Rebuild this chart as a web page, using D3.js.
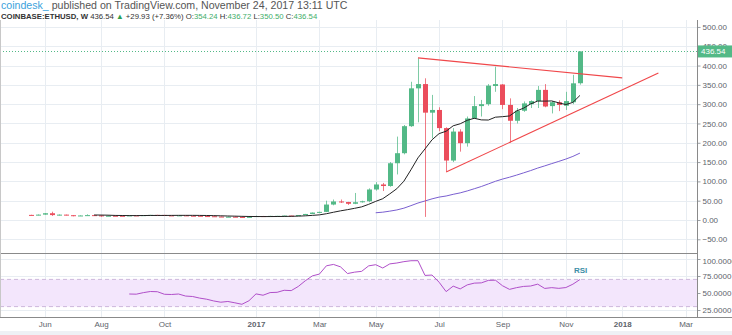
<!DOCTYPE html>
<html><head><meta charset="utf-8">
<script src="https://cdn.jsdelivr.net/npm/d3@7"></script>
<style>
html,body{margin:0;padding:0;background:#fff;}
svg{display:block;font-family:"Liberation Sans",Arial,sans-serif;}
</style></head><body>
<svg id="c" width="732" height="335"></svg>
<script>
// ---------- DATA ----------
const firstWeek = "2016-05-23"; // weekly bars (Monday)
const open  = [13.2,12.5,13.9,17.5,12.7,13.9,12.4,10.4,11.7,12.6,11.9,10.6,11.0,10.9,10.8,11.9,11.8,12.6,13.2,13.1,11.9,11.8,12.0,11.1,10.9,10.2,9.7,8.9,8.3,8.5,7.9,7.2,
  8.1,10.2,9.7,10.6,10.7,11.4,11.3,12.8,15.6,19.2,21.0,40.0,48.0,46.5,42.0,46.0,48.5,79.0,92.0,88.0,147.0,173.0,243.0,341.0,352.0,278.0,285.0,238.0,154.0,229.0,199.0,263.0,295.0,300.0,347.0,351.0,298.0,257.0,283.0,300.0,308.0,337.0,295.0,305.0,296.0,305.0,354.24];
const high  = [13.6,14.4,17.9,21.5,14.5,14.0,12.5,12.1,14.7,13.0,12.1,12.2,11.3,11.2,12.2,12.3,12.8,13.3,13.4,13.2,12.1,12.1,12.1,11.2,11.0,10.3,9.9,9.0,8.8,8.6,8.0,8.3,
  11.3,10.5,10.8,10.9,11.5,11.6,12.9,15.8,19.5,21.5,50.0,53.0,53.0,47.0,70.0,50.0,82.0,98.0,96.0,150.0,216.0,246.0,358.0,419.0,367.0,324.0,292.0,240.0,238.0,235.0,268.0,321.0,311.0,352.0,397.0,352.0,315.0,290.0,307.0,310.0,347.0,352.0,308.0,310.0,332.0,376.0,436.72];
const low   = [11.9,12.0,13.6,10.5,11.5,11.8,9.5,10.2,11.5,11.6,8.3,10.5,10.6,10.6,10.7,11.5,11.7,12.4,12.8,11.8,11.6,11.8,10.9,10.5,10.1,9.5,8.7,7.9,7.8,7.7,7.0,7.1,
  8.0,9.5,9.6,10.4,10.6,10.8,11.2,12.7,15.4,17.5,20.5,38.0,44.0,39.0,41.0,45.0,46.0,76.0,75.0,86.0,118.0,170.0,241.0,253.0,8.0,212.0,230.0,125.0,150.0,177.0,190.0,262.0,268.0,296.0,332.0,287.0,200.0,250.0,280.0,290.0,290.0,292.0,276.0,282.0,285.0,300.0,350.50];
const close = [12.5,13.9,17.5,12.7,13.9,12.4,10.4,11.7,12.6,11.9,10.6,11.0,10.9,10.8,11.9,11.8,12.6,13.2,13.1,11.9,11.8,12.0,11.1,10.9,10.2,9.7,8.9,8.3,8.5,7.9,7.2,8.1,
  10.2,9.7,10.6,10.7,11.4,11.3,12.8,15.6,19.2,21.0,40.0,48.0,46.5,42.0,46.0,48.5,79.0,92.0,88.0,147.0,173.0,243.0,341.0,352.0,278.0,285.0,238.0,154.0,229.0,199.0,263.0,295.0,300.0,348.0,352.0,298.0,257.0,283.0,302.0,308.0,337.0,294.0,305.0,298.0,308.0,354.0,436.54];

const priceTicks = [-50,0,50,100,150,200,250,300,350,400,450,500];
const rsiTicks = [25,50,75,100];
const rsiBand = [30,70];
const monthTicks  = ["2016-06-06","2016-08-01","2016-10-03","2017-01-02","2017-03-06","2017-05-01","2017-07-03","2017-09-04","2017-11-06","2018-01-01","2018-03-05"];
const monthLabels = ["Jun","Aug","Oct","2017","Mar","May","Jul","Sep","Nov","2018","Mar"];
const resistanceLine = [["2017-06-12",420],["2018-01-01",368]];
const supportLine    = [["2017-07-10",124],["2018-02-06",381]];
const lastPrice = 436.54;
const headerLine1 = ["coindesk_"," published on TradingView.com, November 24, 2017 13:11 UTC"];
const headerLine2 = [
  {t:"COINBASE:ETHUSD, W ",c:"#333",b:true},{t:"436.54 ",c:"#333"},{t:"▲",c:"#2e9e4f"},{t:" +29.93 (+7.36%) ",c:"#333"},
  {t:"O:",c:"#333"},{t:"354.24",c:"#3fae6a"},{t:" H:",c:"#333"},{t:"436.72",c:"#3fae6a"},
  {t:" L:",c:"#333"},{t:"350.50",c:"#3fae6a"},{t:" C:",c:"#333"},{t:"436.54",c:"#3fae6a"}];

// ---------- LAYOUT ----------
const W=732, H=335, axisX=697;
const mainTop=20, mainBot=253, rsiTop=254, rsiBot=317;
const parse = d3.utcParse("%Y-%m-%d");
const t0 = parse(firstWeek);
const dates = close.map((_,i)=>d3.utcDay.offset(t0, i*7));
const x = d3.scaleUtc().domain([parse("2017-01-02"), parse("2018-01-01")]).range([256, 256+364*1.006]);
const y = d3.scaleLinear().domain([-85.5, 518]).range([mainBot, mainTop]);
const yR = d3.scaleLinear().domain([0,100]).range([327, 259]);

const GREEN="#53b987", RED="#eb4d5c", GRID="#e8edf2";
const svg = d3.select("#c");
svg.append("rect").attr("width",W).attr("height",H).attr("fill","#fff");
svg.append("rect").attr("x",0).attr("y",331).attr("width",W).attr("height",4).attr("fill","#eef1f5");

const defs = svg.append("defs");
defs.append("clipPath").attr("id","cm").append("rect").attr("x",0).attr("y",mainTop).attr("width",axisX).attr("height",mainBot-mainTop);
defs.append("clipPath").attr("id","cr").append("rect").attr("x",0).attr("y",rsiTop).attr("width",axisX).attr("height",rsiBot-rsiTop);

// grids
const g = svg.append("g");
priceTicks.forEach(v=>g.append("line").attr("x1",0).attr("x2",axisX).attr("y1",Math.round(y(v))+0.5).attr("y2",Math.round(y(v))+0.5).attr("stroke",GRID));
rsiTicks.forEach(v=>g.append("line").attr("x1",0).attr("x2",axisX).attr("y1",Math.round(yR(v))+0.5).attr("y2",Math.round(yR(v))+0.5).attr("stroke",GRID));
monthTicks.forEach(d=>{
  const xx=Math.round(x(parse(d)))+0.5;
  g.append("line").attr("x1",xx).attr("x2",xx).attr("y1",mainTop).attr("y2",mainBot).attr("stroke",GRID);
  g.append("line").attr("x1",xx).attr("x2",xx).attr("y1",rsiTop).attr("y2",rsiBot).attr("stroke",GRID);
});

// ---------- MAIN PANE ----------
const m = svg.append("g").attr("clip-path","url(#cm)");
function sma(n){return close.map((_,i)=> i<n-1?null: d3.mean(close.slice(i-n+1,i+1)));}
const sma10=sma(10), sma50=sma(50);
const lineGen = d3.line().defined(d=>d[1]!=null).x(d=>x(d[0])).y(d=>y(d[1])).curve(d3.curveLinear);
m.append("path").attr("d",lineGen(dates.map((d,i)=>[d,sma50[i]]))).attr("fill","none").attr("stroke","#7a5fd0").attr("stroke-width",1);

// candles
const bw=5;
dates.forEach((d,i)=>{
  const up = close[i]>=open[i], col = up?GREEN:RED;
  const cx = Math.round(x(d));
  m.append("line").attr("x1",cx+0.5).attr("x2",cx+0.5).attr("y1",y(high[i])).attr("y2",y(low[i])).attr("stroke",col).attr("stroke-opacity",0.75);
  const yt=y(Math.max(open[i],close[i])), yb=y(Math.min(open[i],close[i]));
  m.append("rect").attr("x",cx-2).attr("y",yt).attr("width",bw).attr("height",Math.max(1,yb-yt)).attr("fill",col);
});
m.append("path").attr("d",lineGen(dates.map((d,i)=>[d,sma10[i]]))).attr("fill","none").attr("stroke","#222").attr("stroke-width",1);

// trend lines
[resistanceLine,supportLine].forEach(L=>{
  m.append("line").attr("x1",x(parse(L[0][0]))).attr("y1",y(L[0][1])).attr("x2",x(parse(L[1][0]))).attr("y2",y(L[1][1]))
   .attr("stroke","#f0474a").attr("stroke-width",1.1);
});
m.append("line").attr("x1",0).attr("x2",axisX).attr("y1",Math.round(y(lastPrice))+0.5).attr("y2",Math.round(y(lastPrice))+0.5)
 .attr("stroke",GREEN).attr("stroke-dasharray","1,2");

// ---------- RSI PANE ----------
const r = svg.append("g").attr("clip-path","url(#cr)");
r.append("rect").attr("x",0).attr("width",axisX).attr("y",yR(rsiBand[1])).attr("height",yR(rsiBand[0])-yR(rsiBand[1])).attr("fill","#f3e6fc");
rsiBand.forEach(v=>r.append("line").attr("x1",0).attr("x2",axisX).attr("y1",yR(v)).attr("y2",yR(v)).attr("stroke","#cdb8dc").attr("stroke-dasharray","4,3"));
const N=14; const rsi=new Array(close.length).fill(null);
let ag=0, al=0;
for(let i=1;i<close.length;i++){
  const ch=close[i]-close[i-1], gn=Math.max(ch,0), ls=Math.max(-ch,0);
  if(i<=N){ag+=gn; al+=ls; if(i===N){ag/=N; al/=N; rsi[i]=100-100/(1+ag/al);} }
  else { ag=(ag*(N-1)+gn)/N; al=(al*(N-1)+ls)/N; rsi[i]= al===0?100:100-100/(1+ag/al); }
}
const rsiLine = d3.line().defined(d=>d[1]!=null).x(d=>x(d[0])).y(d=>yR(d[1]));
r.append("path").attr("d",rsiLine(dates.map((d,i)=>[d,rsi[i]]))).attr("fill","none").attr("stroke","#b04fc9").attr("stroke-width",1);
svg.append("text").attr("x",x(dates[dates.length-1])-6).attr("y",273).attr("font-size",8).attr("font-weight","bold").attr("fill","#3c8ea6").text("RSI");

// pane borders
svg.append("line").attr("x1",0).attr("x2",axisX).attr("y1",mainBot+0.5).attr("y2",mainBot+0.5).attr("stroke","#8a8a8a");
svg.append("line").attr("x1",0).attr("x2",W).attr("y1",rsiBot+0.5).attr("y2",rsiBot+0.5).attr("stroke","#8a8a8a");
svg.append("line").attr("x1",0.5).attr("x2",0.5).attr("y1",mainTop).attr("y2",rsiBot).attr("stroke","#c8c8c8");

// ---------- AXES ----------
const fmt2=d3.format(".2f"), fmt4=d3.format(".4f");
const ay = svg.append("g").attr("transform",`translate(${axisX+0.5},0)`)
  .call(d3.axisRight(y).tickValues(priceTicks).tickFormat(fmt2).tickSize(3).tickPadding(2));
const ar = svg.append("g").attr("transform",`translate(${axisX+0.5},0)`)
  .call(d3.axisRight(yR).tickValues(rsiTicks).tickFormat(fmt4).tickSize(3).tickPadding(2));
[ay,ar].forEach(a=>{
  a.select(".domain").remove();
  a.selectAll("line").attr("stroke","#9aa0a6");
  a.selectAll("text").attr("font-size",8).attr("fill","#5d636b").attr("font-family","Liberation Sans, Arial, sans-serif");
});
ar.selectAll(".tick").filter(d=>d===100).select("text").attr("dy","0.55em");
svg.append("line").attr("x1",axisX+0.5).attr("x2",axisX+0.5).attr("y1",mainTop).attr("y2",rsiBot+1).attr("stroke","#8a8a8a");

const ax = svg.append("g").attr("transform",`translate(0,${rsiBot})`)
  .call(d3.axisBottom(x).tickValues(monthTicks.map(parse)).tickFormat((d,i)=>monthLabels[i]).tickSize(0).tickPadding(4));
ax.select(".domain").remove();
ax.selectAll("text").attr("font-size",8).attr("fill","#5d636b").attr("font-family","Liberation Sans, Arial, sans-serif")
  .attr("font-weight",(d,i)=>/^\d{4}$/.test(monthLabels[i])?"bold":"normal");

// last price badge
const by=y(lastPrice);
svg.append("rect").attr("x",axisX+1).attr("y",by-6).attr("width",W-axisX-1).attr("height",12).attr("fill",GREEN);
svg.append("text").attr("x",axisX+4).attr("y",by+3).attr("font-size",8).attr("fill","#fff").text(fmt2(lastPrice));

// ---------- HEADER ----------
const h1 = svg.append("text").attr("x",1).attr("y",8.5).attr("font-size",10.6);
h1.append("tspan").attr("fill","#3ba2dc").text(headerLine1[0]);
h1.append("tspan").attr("fill","#555").text(headerLine1[1]);
const h2 = svg.append("text").attr("x",1).attr("y",18.5).attr("font-size",7.75);
headerLine2.forEach(p=>h2.append("tspan").attr("fill",p.c).attr("font-weight",p.b?"bold":"normal").text(p.t));
</script>
</body></html>
